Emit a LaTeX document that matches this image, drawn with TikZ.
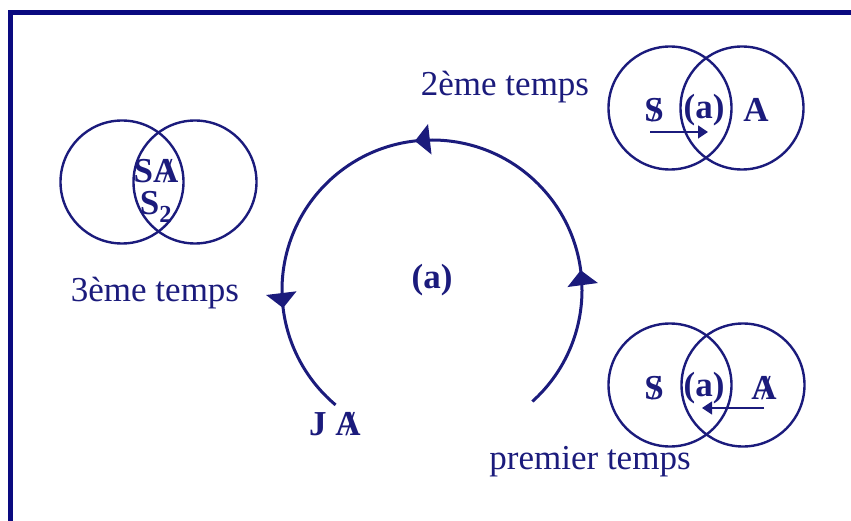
\documentclass[tikz,border=0pt]{standalone}
\usepackage{fontspec}
\setmainfont{Liberation Serif}
\usetikzlibrary{arrows.meta,decorations.markings}
\definecolor{bleu}{HTML}{1B1B7C}
\definecolor{marine}{HTML}{0A0A80}
\newcommand{\barre}[1]{\ooalign{#1\cr\hidewidth\kern.12em\textnormal{/}\hidewidth}}

\begin{document}
\begin{tikzpicture}[x=1pt,y=-1pt,>=Latex,
    every node/.style={text=bleu,font=\fontsize{35}{40}\selectfont},
    lettre/.style={font=\fontsize{35}{32}\selectfont\bfseries},
    rond/.style={draw=bleu,line width=2.4pt,circle,minimum size=123pt,inner sep=0pt},
    fleche/.style={-{Triangle[width=13pt,length=10pt]},bleu,line width=1.3pt},
    pointe/.style={decoration={markings,
        mark=at position 0.20 with {\arrow{Triangle[width=30pt,length=15pt]}},
        mark=at position 0.52 with {\arrow{Triangle[width=30pt,length=15pt]}},
        mark=at position 0.845 with {\arrow{Triangle[width=30pt,length=15pt]}}},
      postaction={decorate}}]
  \useasboundingbox (0,0) rectangle (851,521);
  % cadre
  \draw[marine,line width=5pt] (10.5,521) -- (10.5,12.5) -- (851,12.5);
  % cycle
  \coordinate (centre) at (432,290);
  \draw[bleu,line width=3pt,pointe] (centre) ++(48:150) arc[start angle=48,end angle=-230,radius=150];
  \node[lettre] (cycle) at (432,280) {(a)};
  % 3eme temps
  \node[rond] (g1) at (122,182) {};
  \node[rond] (g2) at (195,182) {};
  \node[lettre,align=center,inner sep=0pt] (sa) at (156,191) {S\barre{A}\\S\textsubscript{2}};
  \node (t3) at (155,293) {3ème temps};
  % 2eme temps
  \node[rond] (h1) at (670,108) {};
  \node[rond] (h2) at (742,108) {};
  \node[lettre] (hs) at (654,110) {\barre{S}};
  \node[lettre] (ha) at (704,110) {(a)};
  \node[lettre] (hA) at (756,110) {A};
  \coordinate (hd) at (650,132);
  \coordinate (hf) at (708,132);
  \draw[fleche] (hd) -- (hf);
  \node (t2) at (505,87) {2ème temps};
  % premier temps
  \node[rond] (b1) at (670,385) {};
  \node[rond] (b2) at (743,385) {};
  \node[lettre] (bs) at (654,388) {\barre{S}};
  \node[lettre] (ba) at (704,388) {(a)};
  \node[lettre] (bA) at (764,388) {\barre{A}};
  \coordinate (bd) at (764,408);
  \coordinate (bf) at (702,408);
  \draw[fleche] (bd) -- (bf);
  \node (t1) at (590,462) {premier temps};
  % JA
  \node[lettre] (ja) at (335,424) {J \barre{A}};
\end{tikzpicture}
\end{document}
